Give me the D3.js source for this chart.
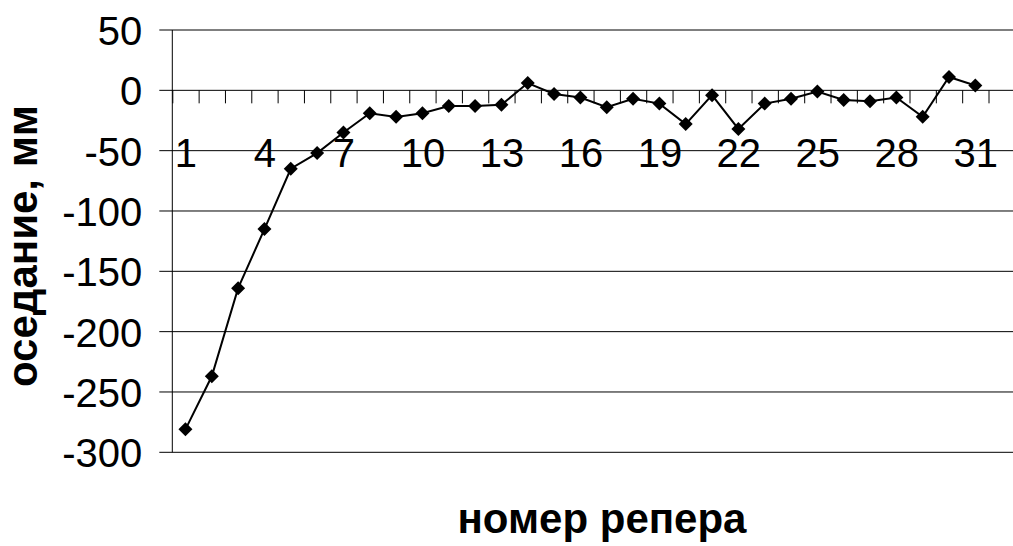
<!DOCTYPE html>
<html>
<head>
<meta charset="utf-8">
<script src="https://cdn.jsdelivr.net/npm/d3@7/dist/d3.min.js"></script>
<style>
  html, body { margin: 0; padding: 0; background: #fff; }
  svg { display: block; font-family: Arial, "Liberation Sans", sans-serif; }
</style>
</head>
<body>
<svg id="chart" width="1013" height="546"></svg>
<script>
// Benchmark numbers (номер репера) and measured settlement, mm
const benchmarks = d3.range(1, 32);
const settlement = [
  -281, -237, -164, -115, -65, -52, -35, -19, -22, -19,
  -13, -13, -12, 6, -3, -6, -14, -7, -11, -28,
  -4, -32, -11, -7, -1, -8, -9, -6, -22, 11, 4
];
const yTickValues = [50, 0, -50, -100, -150, -200, -250, -300];
const xLabelValues = [1, 4, 7, 10, 13, 16, 19, 22, 25, 28, 31];
const yTitle = "оседание, мм";
const xTitle = "номер репера";

const svg = d3.select("#chart");
const W = 1013;

const plot = { left: 172.3, top: 30, bottom: 452.3, right: 988.5 };

const y = d3.scaleLinear().domain([-300, 50]).range([plot.bottom, plot.top]);
// categories occupy one unit each, centred on the integer
const x = d3.scaleLinear().domain([0.5, 31.5]).range([plot.left, plot.right]);

const fontSize = 40;
const titleSize = 42;

// horizontal gridlines (with outside tick stubs on the value axis)
svg.append("g")
  .selectAll("line")
  .data(yTickValues)
  .join("line")
  .attr("x1", plot.left - 13)
  .attr("x2", W)
  .attr("y1", d => y(d))
  .attr("y2", d => y(d))
  .attr("stroke", "#000")
  .attr("stroke-width", 1);

// value axis line
svg.append("line")
  .attr("x1", plot.left).attr("x2", plot.left)
  .attr("y1", plot.top).attr("y2", plot.bottom)
  .attr("stroke", "#000").attr("stroke-width", 1);

// value axis labels
const yAxis = d3.axisLeft(y)
  .tickValues(yTickValues)
  .tickSize(13)
  .tickPadding(17)
  .tickFormat(d => String(d));
const gy = svg.append("g")
  .attr("transform", `translate(${plot.left},0)`)
  .call(yAxis);
gy.select(".domain").remove();
gy.selectAll(".tick line").remove();
gy.selectAll("text")
  .attr("font-size", fontSize)
  .attr("font-family", "Arial, 'Liberation Sans', sans-serif")
  .attr("fill", "#000")
  .attr("dy", "0.36em");

// category axis sits on the zero line: tick marks at category boundaries
const boundaries = d3.range(0.5, 32, 1);
const xTicks = d3.axisBottom(x)
  .tickValues(boundaries)
  .tickSize(13)
  .tickFormat("");
const gxt = svg.append("g")
  .attr("transform", `translate(0,${y(0)})`)
  .call(xTicks);
gxt.select(".domain").remove();
gxt.selectAll(".tick line").attr("stroke", "#000").attr("stroke-width", 1);

// category labels
const xLabels = d3.axisBottom(x)
  .tickValues(xLabelValues)
  .tickSize(0)
  .tickPadding(48)
  .tickFormat(d => String(d));
const gxl = svg.append("g")
  .attr("transform", `translate(0,${y(0)})`)
  .call(xLabels);
gxl.select(".domain").remove();
gxl.selectAll("text")
  .attr("font-size", fontSize)
  .attr("font-family", "Arial, 'Liberation Sans', sans-serif")
  .attr("fill", "#000");

// settlement line
const points = benchmarks.map((b, i) => ({ b, v: settlement[i] }));
svg.append("path")
  .datum(points)
  .attr("fill", "none")
  .attr("stroke", "#000")
  .attr("stroke-width", 2)
  .attr("d", d3.line().x(d => x(d.b)).y(d => y(d.v)));

// diamond markers
svg.append("g")
  .selectAll("path")
  .data(points)
  .join("path")
  .attr("d", d3.symbol().type(d3.symbolSquare).size(98))
  .attr("transform", d => `translate(${x(d.b)},${y(d.v)}) rotate(45)`)
  .attr("fill", "#000");

// axis titles
svg.append("text")
  .attr("transform", `translate(37,${(plot.top + plot.bottom) / 2 + 5}) rotate(-90)`)
  .attr("text-anchor", "middle")
  .attr("font-size", titleSize)
  .attr("font-weight", "bold")
  .text(yTitle);

svg.append("text")
  .attr("x", 602)
  .attr("y", 533)
  .attr("text-anchor", "middle")
  .attr("font-size", titleSize)
  .attr("font-weight", "bold")
  .text(xTitle);
</script>
</body>
</html>
